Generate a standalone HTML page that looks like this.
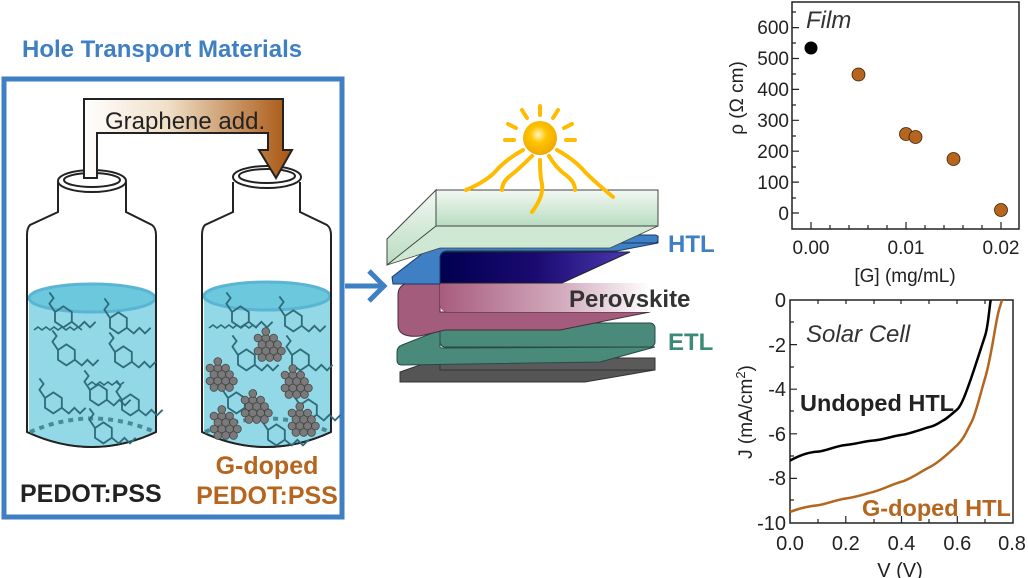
<!DOCTYPE html>
<html><head><meta charset="utf-8"><style>
html,body{margin:0;padding:0;background:#fff}
svg{display:block}
text{font-family:"Liberation Sans",Arial,sans-serif}
</style></head><body>
<svg width="1028" height="578" viewBox="0 0 1028 578" xmlns="http://www.w3.org/2000/svg">
<defs>
<linearGradient id="arr" x1="0" x2="1" y1="0" y2="0">
<stop offset="0" stop-color="#fff"/><stop offset="0.4" stop-color="#f0e0c8"/><stop offset="1" stop-color="#a8550f"/></linearGradient>
<linearGradient id="glass" x1="0" x2="0" y1="0" y2="1"><stop offset="0" stop-color="#f2f8f2"/><stop offset="1" stop-color="#b8dcc0"/></linearGradient>
<linearGradient id="navy" x1="0" x2="1"><stop offset="0" stop-color="#000050"/><stop offset="0.5" stop-color="#1a0a70"/><stop offset="1" stop-color="#4a38b0"/></linearGradient>
<linearGradient id="pink" x1="0" x2="1"><stop offset="0" stop-color="#a85c7e"/><stop offset="0.6" stop-color="#d4aec0"/><stop offset="1" stop-color="#fff"/></linearGradient>
<radialGradient id="sun" cx="0.45" cy="0.4" r="0.6"><stop offset="0" stop-color="#fff6c0"/><stop offset="0.4" stop-color="#ffc400"/><stop offset="1" stop-color="#f0a800"/></radialGradient>
<g id="mol" fill="none" stroke="#2f6b78" stroke-width="1.3">
<path d="M0,0 l6,-4 l6,4 l0,7 l-6,4 l-6,-4z"/><path d="M12,7 l5,4 l4,-4 l4,4 l4,-4"/><path d="M0,0 l-4,-6 l3,-4 l-3,-4"/>
</g>
<g id="gr" fill="#7a7a7a" stroke="#444" stroke-width="0.6">
<circle cx="0" cy="0" r="3"/><circle cx="6" cy="0" r="3"/><circle cx="12" cy="0" r="3"/><circle cx="3" cy="5" r="3"/><circle cx="9" cy="5" r="3"/><circle cx="15" cy="5" r="3"/><circle cx="0" cy="10" r="3"/><circle cx="6" cy="10" r="3"/><circle cx="12" cy="10" r="3"/><circle cx="3" cy="15" r="3"/><circle cx="9" cy="15" r="3"/><circle cx="6" cy="-5" r="3"/><circle cx="18" cy="10" r="3"/><circle cx="15" cy="15" r="3"/>
</g>
</defs>

<!-- Left panel -->
<text x="22" y="57" font-size="24" font-weight="bold" fill="#3f7fc4">Hole Transport Materials</text>
<rect x="4" y="79" width="338" height="438" fill="none" stroke="#3f7fc4" stroke-width="5"/>

<!-- bottles -->
<g stroke="#222" stroke-width="2" fill="#fff">
<path d="M58,182 L58,212 L30,225 Q27,228 27,235 L27,432 Q92,462 156,432 L156,235 Q156,228 152,225 L126,212 L126,182"/>
<path d="M233,182 L233,212 L205,225 Q202,228 202,235 L202,432 Q266,462 331,432 L331,235 Q331,228 327,225 L300,212 L300,182"/>
</g>
<g fill="#92d8e6">
<path d="M29,298 L29,432 Q92,462 155,432 L155,298 Z"/>
<path d="M204,296 L204,432 Q266,462 330,432 L330,296 Z"/>
</g>
<ellipse cx="92" cy="298" rx="63" ry="14" fill="#6cc8dc" stroke="#5ab4d4" stroke-width="3"/>
<ellipse cx="267" cy="296" rx="63" ry="14" fill="#6cc8dc" stroke="#5ab4d4" stroke-width="3"/>
<g stroke="#222" stroke-width="2" fill="none">
<path d="M27,432 Q92,462 156,432"/><path d="M202,432 Q266,462 331,432"/>
<path d="M27,235 L27,432 M156,235 L156,432 M202,235 L202,432 M331,235 L331,432"/>
</g>
<path d="M30,432 Q92,405 155,432" stroke="#4a8a96" stroke-width="4" stroke-dasharray="5,5" fill="none"/>
<path d="M205,432 Q266,405 330,432" stroke="#4a8a96" stroke-width="4" stroke-dasharray="5,5" fill="none"/>
<g stroke="#222" stroke-width="2" fill="#fff">
<ellipse cx="92" cy="181" rx="34" ry="11"/><ellipse cx="92" cy="180" rx="28" ry="7"/>
<ellipse cx="267" cy="177" rx="34" ry="11"/><ellipse cx="267" cy="176" rx="28" ry="7"/>
</g>
<!-- molecules -->
<g transform="translate(55,312) scale(1.4)"><use href="#mol"/></g>
<g transform="translate(110,318) scale(1.4)"><use href="#mol"/></g>
<g transform="translate(58,350) scale(1.4)"><use href="#mol"/></g>
<g transform="translate(115,352) scale(1.4)"><use href="#mol"/></g>
<g transform="translate(45,398) scale(1.4)"><use href="#mol"/></g>
<g transform="translate(90,390) scale(1.4)"><use href="#mol"/></g>
<g transform="translate(122,400) scale(1.4)"><use href="#mol"/></g>
<g transform="translate(95,428) scale(1.4)"><use href="#mol"/></g>
<path d="M34,330 l4,-3 l4,3 l4,-3 l4,3 l4,-3 l4,3 l4,-3 l4,3 l4,-3 l4,3 l4,-3 l4,3" fill="none" stroke="#2f6b78" stroke-width="1.6"/>
<path d="M88,385 l4,-3 l4,3 l4,-3 l4,3 l4,-3 l4,3 l4,-3 l4,3 l4,-3" fill="none" stroke="#2f6b78" stroke-width="1.6"/>
<g transform="translate(232,312) scale(1.4)"><use href="#mol"/></g>
<g transform="translate(285,316) scale(1.4)"><use href="#mol"/></g>
<g transform="translate(238,355) scale(1.4)"><use href="#mol"/></g>
<g transform="translate(292,355) scale(1.4)"><use href="#mol"/></g>
<g transform="translate(228,398) scale(1.4)"><use href="#mol"/></g>
<g transform="translate(300,405) scale(1.4)"><use href="#mol"/></g>
<g transform="translate(268,430) scale(1.4)"><use href="#mol"/></g>
<path d="M209,328 l4,-3 l4,3 l4,-3 l4,3 l4,-3 l4,3 l4,-3 l4,3 l4,-3 l4,3 l4,-3 l4,3" fill="none" stroke="#2f6b78" stroke-width="1.6"/>
<g transform="translate(258,338) scale(1.3)"><use href="#gr"/></g>
<g transform="translate(210,368) scale(1.3)"><use href="#gr"/></g>
<g transform="translate(285,375) scale(1.3)"><use href="#gr"/></g>
<g transform="translate(245,400) scale(1.3)"><use href="#gr"/></g>
<g transform="translate(214,416) scale(1.3)"><use href="#gr"/></g>
<g transform="translate(292,413) scale(1.3)"><use href="#gr"/></g>

<!-- graphene add arrow -->
<path d="M84,178 L84,99 L283,99 L283,150 L292,150 L276,178 L259,150 L268,150 L268,133 L97,133 L97,178 Z" fill="url(#arr)" stroke="#222" stroke-width="2"/>
<text x="105" y="129" font-size="24" fill="#222">Graphene add.</text>

<text x="20" y="502" font-size="25" font-weight="bold" fill="#222">PEDOT:PSS</text>
<text x="267" y="474" font-size="25" font-weight="bold" fill="#b5651d" text-anchor="middle">G-doped</text>
<text x="267" y="504" font-size="25" font-weight="bold" fill="#b5651d" text-anchor="middle">PEDOT:PSS</text>

<!-- blue arrow -->
<path d="M345,286 L383,286 M369,271 L384,286 L369,301" stroke="#3f7fc4" stroke-width="5" fill="none"/>

<!-- device -->
<path d="M400,372 L440,358 L655,358 L655,370 L585,382 L400,382 Z" fill="#555" stroke="#333" stroke-width="1"/>
<path d="M440,358 L655,358 L655,370 L440,370 Z" fill="#5a5a5a" stroke="#333"/>
<path d="M397,352 Q397,347 402,345 L440,330 L440,347 Q440,348 445,348 L655,347 L600,362 L402,365 Q397,365 397,360 Z" fill="#4a8a7a" stroke="#2a4a44"/>
<rect x="440" y="323" width="215" height="24" rx="5" fill="#4a8a7a" stroke="#2a4a44"/>
<path d="M398,295 Q398,287 405,284 L440,268 L440,312 L650,312 L560,330 L445,330 L420,336 Q398,338 398,325 Z" fill="#a35c7c" stroke="#4a2a3a"/>
<path d="M440,283 L650,283 L650,312 L448,312 Q440,312 440,304 Z" fill="url(#pink)"/>
<path d="M440,252 L630,252 L562,283 L440,283 Z" fill="url(#navy)" stroke="#222" stroke-width="1"/>
<path d="M445,236 L392,277 L393,284 L440,284 L440,258 Q440,252 446,251 L617,251 L658,243 L658,236 Z" fill="#3f7fc4" stroke="#1a3a66"/>
<rect x="443" y="235" width="215" height="8" rx="3" fill="#3f7fc4" stroke="#1a3a66"/>
<path d="M436,190 L387,239 L387,265 L436,226 Z" fill="url(#glass)" stroke="#444"/>
<path d="M387,265 L436,226 L658,226 L610,248 L440,248 Z" fill="#cfe8d4" stroke="#444" stroke-width="0.8"/>
<rect x="436" y="190" width="222" height="36" fill="url(#glass)" stroke="#444"/>
<text x="668" y="252" font-size="24" font-weight="bold" fill="#3f7fc4">HTL</text>
<text x="569" y="307" font-size="24" font-weight="bold" fill="#333">Perovskite</text>
<text x="668" y="350" font-size="24" font-weight="bold" fill="#3d8a78">ETL</text>

<!-- sun -->
<g stroke="#ffbb00" stroke-width="4" fill="none" stroke-linecap="round">
<path d="M540,106 L540,115 M522,110 L527,118 M558,110 L553,118 M508,124 L516,128 M572,124 L564,128 M505,140 L514,140 M575,140 L566,140"/>
<path d="M523,150 Q505,160 495,172 Q485,182 466,190"/>
<path d="M532,156 Q520,168 510,176 Q502,182 502,190"/>
<path d="M540,160 Q540,176 542,184 Q544,196 532,212"/>
<path d="M549,156 Q556,168 567,176 Q575,182 575,190"/>
<path d="M557,150 Q575,160 585,172 Q595,182 613,197"/>
</g>
<circle cx="540" cy="138" r="17" fill="url(#sun)"/>

<!-- Plot 1 -->
<rect x="792" y="2" width="227" height="227" fill="none" stroke="#222" stroke-width="1.5"/>
<g stroke="#222" stroke-width="1.2">
<path d="M792,27.6h7M792,58.5h7M792,89.4h7M792,120.3h7M792,151.2h7M792,182.1h7M792,213h7"/>
<path d="M792,43h4M792,74h4M792,105h4M792,136h4M792,167h4M792,198h4M792,12h4"/>
<path d="M811,229v-7M906,229v-7M1001,229v-7M830,229v-4M849,229v-4M868,229v-4M887,229v-4M925,229v-4M944,229v-4M963,229v-4M982,229v-4"/>
</g>
<g font-size="19" fill="#222" text-anchor="end">
<text x="789" y="34">600</text><text x="789" y="65">500</text><text x="789" y="96">400</text><text x="789" y="127">300</text><text x="789" y="158">200</text><text x="789" y="189">100</text><text x="789" y="220">0</text>
</g>
<g font-size="19" fill="#222" text-anchor="middle">
<text x="811" y="254">0.00</text><text x="906" y="254">0.01</text><text x="1001" y="254">0.02</text>
<text x="905" y="282">[G] (mg/mL)</text>
</g>
<text transform="translate(743,98) rotate(-90)" font-size="19" fill="#222" text-anchor="middle">ρ (Ω cm)</text>
<text x="806" y="28" font-size="24" font-style="italic" fill="#333">Film</text>
<circle cx="811" cy="48" r="6.5" fill="#000"/>
<g fill="#b5651d" stroke="#3a2008" stroke-width="0.8">
<circle cx="858.5" cy="74.5" r="6.5"/><circle cx="906" cy="134" r="6.5"/><circle cx="915.5" cy="137" r="6.5"/><circle cx="953.5" cy="159" r="6.5"/><circle cx="1001" cy="210" r="6.5"/>
</g>

<!-- Plot 2 -->
<rect x="790" y="300" width="223" height="223" fill="none" stroke="#222" stroke-width="1.5"/>
<g stroke="#222" stroke-width="1.2">
<path d="M790,344.6h7M790,389.2h7M790,433.8h7M790,478.4h7M790,322h4M790,367h4M790,411h4M790,456h4M790,500h4"/>
<path d="M845.8,523v-7M901.5,523v-7M957.3,523v-7M818,523v-4M874,523v-4M929,523v-4M985,523v-4"/>
<path d="M818,300v4M846,300v4M874,300v4M901,300v4M929,300v4M957,300v4M985,300v4"/>
</g>
<g font-size="20" fill="#222" text-anchor="end">
<text x="786" y="307">0</text><text x="786" y="352">-2</text><text x="786" y="396">-4</text><text x="786" y="441">-6</text><text x="786" y="485">-8</text><text x="786" y="530">-10</text>
</g>
<g font-size="20" fill="#222" text-anchor="middle">
<text x="790" y="550">0.0</text><text x="845.8" y="550">0.2</text><text x="901.5" y="550">0.4</text><text x="957.3" y="550">0.6</text><text x="1012" y="550">0.8</text>
<text x="900" y="577">V (V)</text>
</g>
<text transform="translate(752,412) rotate(-90)" font-size="19" fill="#222" text-anchor="middle">J (mA/cm<tspan font-size="13" dy="-7">2</tspan><tspan dy="7">)</tspan></text>
<text x="806" y="342" font-size="24" font-style="italic" fill="#333">Solar Cell</text>
<path d="M790,460.6 C800,455 810,452 817.9,451.6 S835,446 845.8,445 S865,441 873.6,440.5 S893,436 901.5,434.9 S922,429 929.4,427.1 S940,422 943.3,420.4 S953,413 957.3,409.3 S967,390 971.2,378 S982,345 985.1,335.7 S989,310 990.7,300" fill="none" stroke="#000" stroke-width="2.5"/>
<path d="M790,511.9 C800,508 810,506 817.9,505.2 S835,500 845.8,498.5 S865,494 873.6,491.8 S893,484 901.5,481.7 S920,472 929.4,467.3 S950,452 957.3,445 S967,430 971.2,422.7 S980,395 985.1,378 S993,340 996.3,322.3 S1000,308 1001.9,300" fill="none" stroke="#b5651d" stroke-width="2.5"/>
<text x="800" y="411" font-size="23.5" font-weight="bold" fill="#222">Undoped HTL</text>
<text x="862" y="516" font-size="23.5" font-weight="bold" fill="#b5651d">G-doped HTL</text>
</svg>
</body></html>
